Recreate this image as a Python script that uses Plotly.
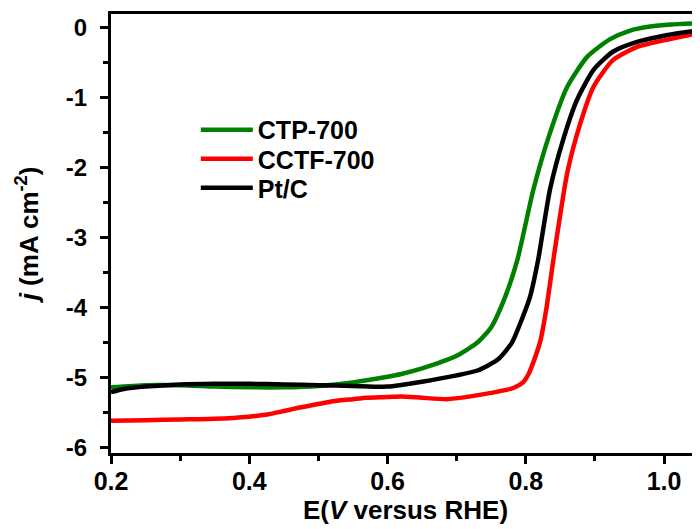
import plotly.graph_objects as go

# CTP-700 (green)
ctp_x = [0.2, 0.25, 0.3, 0.35, 0.4, 0.45, 0.5, 0.55, 0.6, 0.62, 0.65, 0.7, 0.73, 0.75, 0.77,
         0.788, 0.811, 0.835, 0.86, 0.889, 0.922, 0.95, 0.98, 1.01, 1.052]
ctp_y = [-5.14, -5.11, -5.11, -5.13, -5.14, -5.14, -5.12, -5.07, -4.99, -4.95, -4.87, -4.69, -4.5, -4.28, -3.85,
         -3.31, -2.31, -1.5, -0.84, -0.41, -0.16, -0.04, 0.02, 0.05, 0.07]

# CCTF-700 (red)
cctf_x = [0.2, 0.25, 0.3, 0.35, 0.4, 0.426, 0.45, 0.473, 0.5, 0.521, 0.55, 0.57, 0.6, 0.62, 0.65,
          0.686, 0.72, 0.75, 0.782, 0.796, 0.804, 0.811, 0.821, 0.83, 0.84, 0.86, 0.879, 0.898,
          0.926, 0.961, 0.98, 1.052]
cctf_y = [-5.62, -5.61, -5.6, -5.59, -5.56, -5.53, -5.48, -5.43, -5.38, -5.34, -5.31, -5.29, -5.28, -5.27, -5.29,
          -5.31, -5.27, -5.22, -5.15, -5.07, -4.95, -4.78, -4.48, -4.0, -3.31, -2.07, -1.36, -0.84,
          -0.46, -0.27, -0.22, -0.07]

# Pt/C (black)
ptc_x = [0.2, 0.22, 0.25, 0.3, 0.35, 0.4, 0.45, 0.5, 0.55, 0.6, 0.65, 0.7, 0.73, 0.76, 0.78,
         0.795, 0.806, 0.818, 0.835, 0.854, 0.874, 0.898, 0.926, 0.961, 1.005, 1.052]
ptc_y = [-5.21, -5.16, -5.13, -5.1, -5.09, -5.09, -5.1, -5.11, -5.12, -5.13, -5.06, -4.97, -4.9, -4.74, -4.5,
         -4.15, -3.85, -3.31, -2.31, -1.6, -1.03, -0.6, -0.34, -0.2, -0.1, -0.03]

x_ticks = [0.2, 0.4, 0.6, 0.8, 1.0]
x_ticktext = ["0.2", "0.4", "0.6", "0.8", "1.0"]
x_minor = [0.3, 0.5, 0.7, 0.9]
y_ticks = [0, -1, -2, -3, -4, -5, -6]
y_ticktext = ["0", "-1", "-2", "-3", "-4", "-5", "-6"]
y_minor = [-0.5, -1.5, -2.5, -3.5, -4.5, -5.5]

FONT = "Liberation Sans, Arial, sans-serif"
LEG_FONT = dict(family=FONT, size=25, color="black", weight="bold")

series = [("CTP-700", ctp_x, ctp_y, "#008000", "legend"),
          ("CCTF-700", cctf_x, cctf_y, "#ff0000", "legend2"),
          ("Pt/C", ptc_x, ptc_y, "#000000", "legend3")]

fig = go.Figure()
for name, xs, ys, col, lg in series:
    fig.add_trace(go.Scatter(x=xs, y=ys, mode="lines", name=name, legend=lg, showlegend=True,
                             line=dict(color=col, width=4.5, shape="spline", smoothing=0.6)))

def leg(ypos):
    return dict(x=0.144, y=ypos, xanchor="left", yanchor="middle", visible=True,
                bgcolor="rgba(0,0,0,0)", itemwidth=52, font=LEG_FONT)

fig.update_layout(
    width=700, height=529, showlegend=True,
    margin=dict(l=103, r=8, t=6, b=84, autoexpand=False),
    plot_bgcolor="white", paper_bgcolor="white",
    font=dict(family=FONT, color="black"),
    legend=leg(0.7358), legend2=leg(0.6697), legend3=leg(0.6036),
    xaxis=dict(range=[0.2, 1.052], showgrid=False, zeroline=False, automargin=False,
               showline=True, linecolor="black", linewidth=3, mirror=True,
               ticks="outside", ticklen=8, tickwidth=3, tickcolor="black",
               tickmode="array", tickvals=x_ticks, ticktext=x_ticktext, ticklabelstandoff=-4,
               tickfont=dict(family=FONT, size=25, color="black", weight="bold"),
               minor=dict(ticks="outside", ticklen=5, tickwidth=3, tickcolor="black",
                          tickmode="array", tickvals=x_minor, showgrid=False),
               title=dict(text="<b>E(<i>V</i> versus RHE)</b>", standoff=0,
                          font=dict(family=FONT, size=26, color="black"))),
    yaxis=dict(range=[-6.08, 0.2], showgrid=False, zeroline=False, automargin=False,
               showline=True, linecolor="black", linewidth=3, mirror=False,
               ticks="outside", ticklen=8, tickwidth=3, tickcolor="black",
               tickmode="array", tickvals=y_ticks, ticktext=y_ticktext, ticklabelstandoff=8,
               tickfont=dict(family=FONT, size=24, color="black", weight="bold"),
               minor=dict(ticks="outside", ticklen=5, tickwidth=3, tickcolor="black",
                          tickmode="array", tickvals=y_minor, showgrid=False),
               title=dict(text="<b><i>j</i> (mA cm<sup>-2</sup>)</b>", standoff=20,
                          font=dict(family=FONT, size=26, color="black"))),
)

fig.write_html("out.html")
